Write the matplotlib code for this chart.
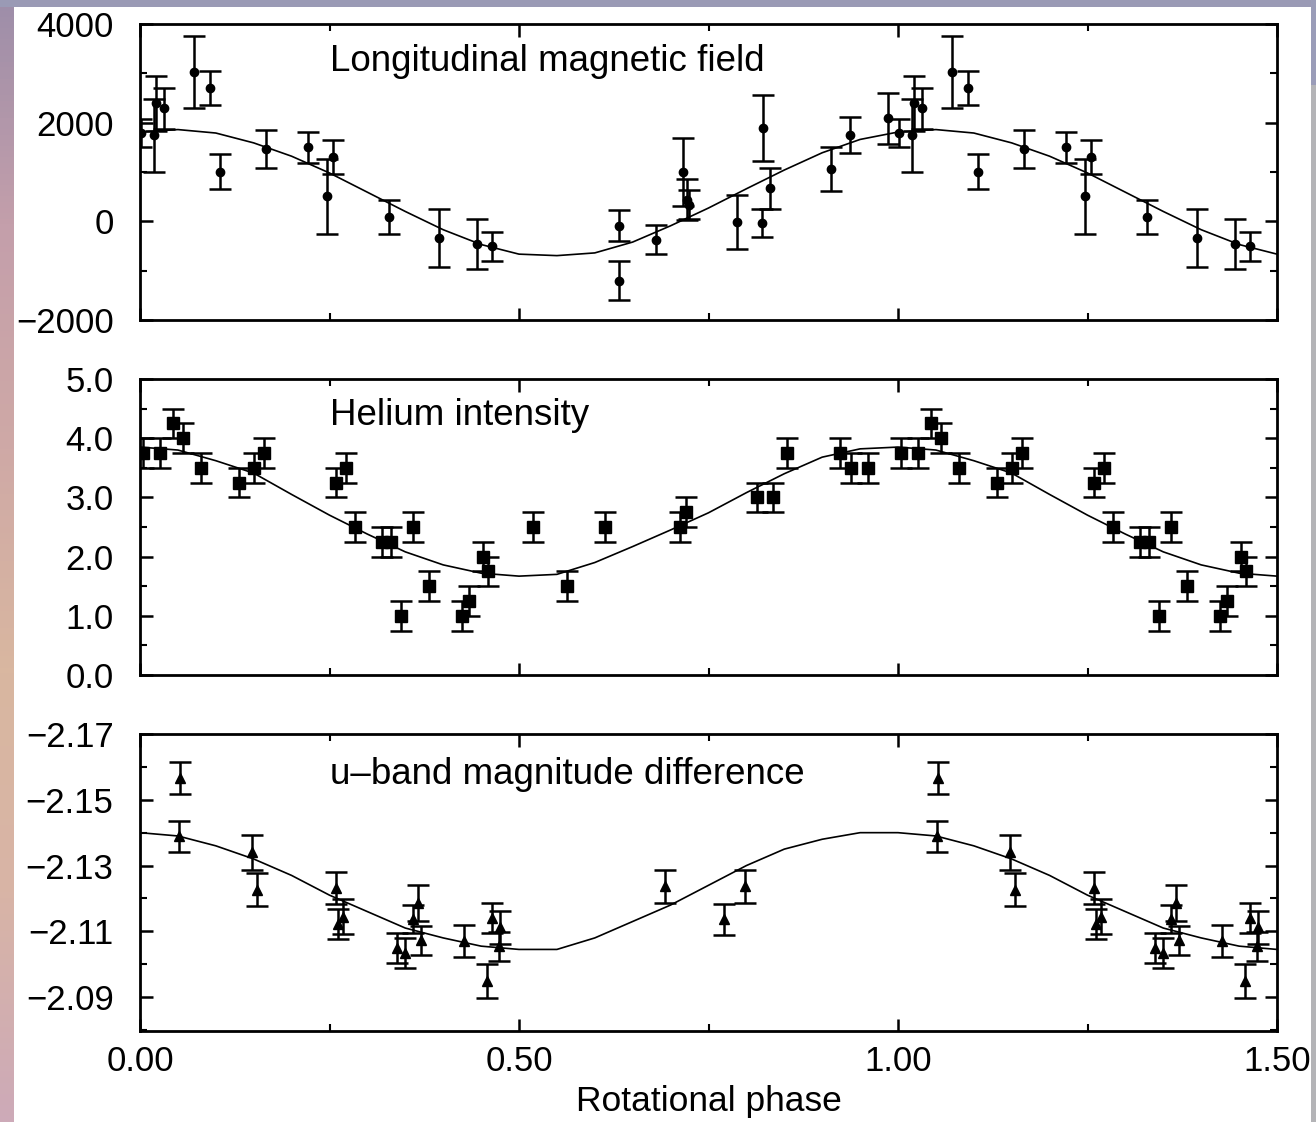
import numpy as np
import matplotlib.pyplot as plt
from matplotlib.patches import Rectangle
from matplotlib.ticker import MultipleLocator, FixedLocator, FormatStrFormatter, FuncFormatter
from matplotlib.colors import LinearSegmentedColormap

plt.rcParams['font.family'] = ['Liberation Sans', 'DejaVu Sans']

# longitudinal magnetic field (G) over one rotation
bl_phase = [0.001, 0.019, 0.021, 0.032, 0.071, 0.093, 0.106, 0.166, 0.221, 0.247,
            0.254, 0.329, 0.394, 0.444, 0.464, 0.632, 0.632, 0.681, 0.717, 0.722,
            0.724, 0.787, 0.820, 0.822, 0.831, 0.911, 0.937, 0.987]
bl_value = [1790, 1740, 2390, 2290, 3030, 2700, 1010, 1470, 1500, 510,
            1300, 90, -340, -460, -510, -90, -1200, -370, 1000, 440,
            340, -20, -30, 1890, 670, 1060, 1750, 2090]
bl_err = [290, 740, 560, 420, 730, 340, 350, 385, 320, 760,
          350, 350, 590, 500, 290, 310, 390, 290, 690, 420,
          290, 550, 290, 675, 410, 440, 360, 520]

# helium line intensity
he_phase = [0.004, 0.027, 0.043, 0.057, 0.081, 0.131, 0.151, 0.164, 0.258, 0.272,
            0.284, 0.319, 0.331, 0.344, 0.360, 0.381, 0.425, 0.434, 0.453, 0.459,
            0.519, 0.563, 0.613, 0.713, 0.720, 0.814, 0.835, 0.853, 0.923, 0.9375,
            0.960]
he_value = [3.75, 3.75, 4.25, 4.0, 3.5, 3.25, 3.5, 3.75, 3.25, 3.5,
            2.5, 2.25, 2.25, 1.0, 2.5, 1.5, 1.0, 1.25, 2.0, 1.75,
            2.5, 1.5, 2.5, 2.5, 2.75, 3.0, 3.0, 3.75, 3.75, 3.5,
            3.5]
he_err = [0.25, 0.25, 0.25, 0.25, 0.25, 0.25, 0.25, 0.25, 0.25, 0.25,
          0.25, 0.25, 0.25, 0.25, 0.25, 0.25, 0.25, 0.25, 0.25, 0.25,
          0.25, 0.25, 0.25, 0.25, 0.25, 0.25, 0.25, 0.25, 0.25, 0.25,
          0.25]

# u-band magnitude difference
u_phase = [0.051, 0.053, 0.148, 0.154, 0.258, 0.261, 0.268, 0.339, 0.350, 0.360,
           0.367, 0.371, 0.428, 0.458, 0.464, 0.474, 0.475, 0.693, 0.770, 0.798]
u_value = [-2.1389, -2.1566, -2.1340, -2.1227, -2.1232, -2.1123, -2.1145, -2.1049, -2.1034, -2.1137,
           -2.1186, -2.1073, -2.1070, -2.0948, -2.1140, -2.1054, -2.1112, -2.1237, -2.1137, -2.1237]
u_err = [0.0047, 0.0048, 0.0053, 0.0049, 0.0049, 0.0046, 0.0053, 0.0046, 0.0046, 0.0043,
         0.0054, 0.0044, 0.0049, 0.0052, 0.0046, 0.0043, 0.0051, 0.0051, 0.0047, 0.0050]
u_ticks = [-2.17, -2.15, -2.13, -2.11, -2.09]
u_minor = [-2.16, -2.14, -2.12, -2.10, -2.08]

# fitted curves read at 0.05 steps in phase
fit_phase = [0.00, 0.05, 0.10, 0.15, 0.20, 0.25, 0.30, 0.35, 0.40, 0.45, 0.50,
             0.55, 0.60, 0.65, 0.70, 0.75, 0.80, 0.85, 0.90, 0.95, 1.00]
bl_fit = [1810, 1860, 1790, 1590, 1320, 980, 590, 200, -170, -470, -665,
          -695, -640, -420, -90, 270, 660, 1040, 1390, 1660, 1810]
he_fit = [3.85, 3.80, 3.62, 3.41, 3.05, 2.70, 2.38, 2.08, 1.86, 1.72, 1.67,
          1.70, 1.90, 2.17, 2.45, 2.74, 3.08, 3.40, 3.68, 3.82, 3.85]
u_fit = [-2.1400, -2.1390, -2.1360, -2.1320, -2.1270, -2.1210, -2.1160, -2.1110, -2.1080, -2.1055, -2.1045,
         -2.1045, -2.1080, -2.1130, -2.1180, -2.1240, -2.1300, -2.1350, -2.1380, -2.1400, -2.1400]


def extend(phase, *cols):
    # phases 0-0.5 are plotted a second time at 1.0-1.5
    phase = np.asarray(phase, dtype=float)
    sel = phase <= 0.5
    out = [np.concatenate([phase, phase[sel] + 1.0])]
    for c in cols:
        c = np.asarray(c, dtype=float)
        out.append(np.concatenate([c, c[sel]]))
    return out


W_PX, H_PX = 1316, 1122
fig = plt.figure(figsize=(W_PX / 100, H_PX / 100), dpi=100)

# backdrop: coloured frame with the white sheet on top
bg = fig.add_axes([0, 0, 1, 1], zorder=-10)
edge = LinearSegmentedColormap.from_list('edge', ['#9e8ea9', '#c49fab', '#cfa9a6', '#d9b7a0',
                                                  '#d8b4a6', '#cdaab8'])
bg.imshow(np.linspace(0, 1, 200).reshape(-1, 1), aspect='auto', cmap=edge,
          extent=[0, 1, 0, 1], origin='upper')
bg.add_patch(Rectangle((0, 1 - 7 / H_PX), 1, 7 / H_PX, color='#9a9ab5', lw=0))
bg.add_patch(Rectangle((1311 / W_PX, 0), 1, 1 - 85 / H_PX, color='#b4b4b7', lw=0))
bg.add_patch(Rectangle((1311 / W_PX, 1 - 85 / H_PX), 1, 85 / H_PX, color='#9a9cb8', lw=0))
bg.add_patch(Rectangle((14 / W_PX, 0), (1311 - 14) / W_PX, 1 - 7 / H_PX, color='white', lw=0))
bg.set_xlim(0, 1)
bg.set_ylim(0, 1)
bg.axis('off')

left, width = 140 / W_PX, 1137 / W_PX
ax1 = fig.add_axes([left, 1 - 320 / H_PX, width, 296 / H_PX])
ax2 = fig.add_axes([left, 1 - 675 / H_PX, width, 296 / H_PX])
ax3 = fig.add_axes([left, 1 - 1031 / H_PX, width, 297 / H_PX])

ebar = dict(color='black', ecolor='black', capsize=8, elinewidth=1.8, capthick=1.8, linestyle='none')

x, y, e = extend(bl_phase, bl_value, bl_err)
ax1.errorbar(x, y, yerr=e, fmt='o', ms=6, **ebar)
fx, fy = extend(fit_phase, bl_fit)
ax1.plot(fx, fy, c='black', lw=1.2)

x, y, e = extend(he_phase, he_value, he_err)
ax2.errorbar(x, y, yerr=e, fmt='s', ms=9, **ebar)
fx, fy = extend(fit_phase, he_fit)
ax2.plot(fx, fy, c='black', lw=1.2)

x, y, e = extend(u_phase, u_value, u_err)
ax3.errorbar(x, y, yerr=e, fmt='^', ms=7.5, **ebar)
fx, fy = extend(fit_phase, u_fit)
ax3.plot(fx, fy, c='black', lw=1.2)

ax1.set_ylim(-2000, 4000)
ax1.yaxis.set_major_locator(MultipleLocator(2000))
ax1.yaxis.set_minor_locator(MultipleLocator(1000))

ax2.set_ylim(0, 5)
ax2.yaxis.set_major_locator(MultipleLocator(1.0))
ax2.yaxis.set_minor_locator(MultipleLocator(0.5))
ax2.yaxis.set_major_formatter(FormatStrFormatter('%.1f'))

ax3.set_ylim(-2.0797, -2.17)
ax3.yaxis.set_major_locator(FixedLocator(u_ticks))
ax3.yaxis.set_minor_locator(FixedLocator(u_minor))
ax3.yaxis.set_major_formatter(FuncFormatter(lambda v, p: f'{v:.2f}'.replace('-', '\u2212')))

titles = ['Longitudinal magnetic field', 'Helium intensity', 'u\u2013band magnitude difference']
for ax, t, ty in zip([ax1, ax2, ax3], titles, [0.872, 0.878, 0.862]):
    ax.set_xlim(0, 1.5)
    ax.xaxis.set_major_locator(MultipleLocator(0.5))
    ax.xaxis.set_minor_locator(MultipleLocator(0.25))
    ax.xaxis.set_major_formatter(FormatStrFormatter('%.2f'))
    ax.tick_params(which='both', direction='in', top=True, right=True, labelsize=25)
    ax.tick_params(axis='y', which='both', pad=19)
    ax.tick_params(axis='x', which='both', pad=10)
    ax.tick_params(which='major', length=9, width=1.8)
    ax.tick_params(which='minor', length=5, width=1.5)
    for s in ax.spines.values():
        s.set_linewidth(2)
    ax.text(0.167, ty, t, transform=ax.transAxes, fontsize=26.5, va='center', ha='left')

ax1.tick_params(labelbottom=False)
ax2.tick_params(labelbottom=False)
ax3.set_xlabel('Rotational phase', fontsize=25.5, labelpad=5)

fig.savefig('out.png', dpi=100)
